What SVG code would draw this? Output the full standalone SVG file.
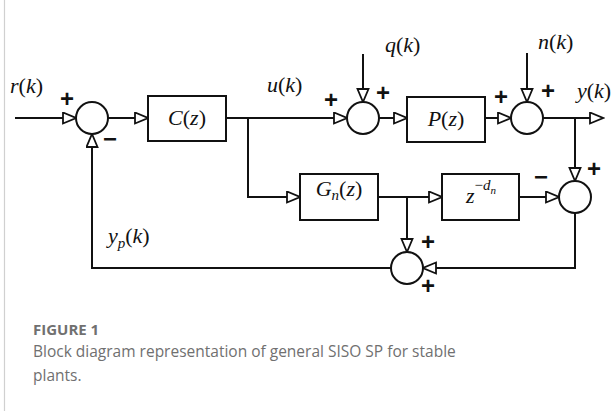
<svg xmlns="http://www.w3.org/2000/svg" width="612" height="411" viewBox="0 0 612 411">
  <defs>
    <style>
      .wire { fill: none; stroke: #111; stroke-width: 2; }
      .blk { fill: #fff; stroke: #111; stroke-width: 2; }
      .sum { fill: #fff; stroke: #111; stroke-width: 2; }
      .math { font-family: "Liberation Serif", "Times New Roman", serif; font-size: 22px; fill: #111; }
      .it { font-style: italic; }
      .sign { font-family: "Liberation Sans", Arial, sans-serif; font-size: 24px; font-weight: 700; fill: #111; text-anchor: middle; }
      .cap { font-family: "Open Sans", "Noto Sans", sans-serif; fill: #707070; }
    </style>
    <marker id="open" markerUnits="userSpaceOnUse" markerWidth="16" markerHeight="14" viewBox="-1 -1 16 14" refX="13" refY="5.5" orient="auto">
      <path d="M0,0 L13,5.5 L0,11 Z" fill="#fff" stroke="#111" stroke-width="1.8" stroke-linejoin="miter"/>
    </marker>
  </defs>

  <rect x="0" y="0" width="612" height="411" fill="#fff"/>
  <line x1="4.5" y1="0" x2="4.5" y2="411" stroke="#d0d0d0" stroke-width="1.2"/>

  <!-- signal lines -->
  <g id="connectors">
    <path class="wire" d="M15,118 H76" marker-end="url(#open)"/>
    <path class="wire" d="M108,118 H148" marker-end="url(#open)"/>
    <path class="wire" d="M226,118 H347" marker-end="url(#open)"/>
    <path class="wire" d="M248,118 V197 H300" marker-end="url(#open)"/>
    <path class="wire" d="M363,54 V102" marker-end="url(#open)"/>
    <path class="wire" d="M379,118 H407" marker-end="url(#open)"/>
    <path class="wire" d="M485,118 H511" marker-end="url(#open)"/>
    <path class="wire" d="M527,53 V102" marker-end="url(#open)"/>
    <path class="wire" d="M543,118 H603" marker-end="url(#open)"/>
    <path class="wire" d="M575,118 V181" marker-end="url(#open)"/>
    <path class="wire" d="M378,197 H442" marker-end="url(#open)"/>
    <path class="wire" d="M407,197 V252" marker-end="url(#open)"/>
    <path class="wire" d="M519,197 H559" marker-end="url(#open)"/>
    <path class="wire" d="M575,213 V268 H423" marker-end="url(#open)"/>
    <path class="wire" d="M391,268 H92 V134" marker-end="url(#open)"/>
  </g>

  <!-- summing junctions -->
  <g id="sum1">
    <circle class="sum" cx="92" cy="118" r="16"/>
    <text class="sign" x="67" y="107">+</text>
    <text class="sign" x="110" y="147">−</text>
  </g>
  <g id="sum2">
    <circle class="sum" cx="363" cy="118" r="16"/>
    <text class="sign" x="331" y="108">+</text>
    <text class="sign" x="383" y="101">+</text>
  </g>
  <g id="sum3">
    <circle class="sum" cx="527" cy="118" r="16"/>
    <text class="sign" x="501" y="105">+</text>
    <text class="sign" x="548" y="99">+</text>
  </g>
  <g id="sum4">
    <circle class="sum" cx="575" cy="197" r="16"/>
    <text class="sign" x="541" y="185">−</text>
    <text class="sign" x="594" y="176.5">+</text>
  </g>
  <g id="sum5">
    <circle class="sum" cx="407" cy="268" r="16"/>
    <text class="sign" x="428" y="249.5">+</text>
    <text class="sign" x="428" y="294">+</text>
  </g>

  <!-- blocks -->
  <g id="controller">
    <rect class="blk" x="148" y="96" width="78" height="45"/>
    <text class="math" x="187" y="125" text-anchor="middle"><tspan class="it">C</tspan>(<tspan class="it">z</tspan>)</text>
  </g>
  <g id="plant">
    <rect class="blk" x="407" y="97" width="78" height="45"/>
    <text class="math" x="446" y="126" text-anchor="middle"><tspan class="it">P</tspan>(<tspan class="it">z</tspan>)</text>
  </g>
  <g id="model">
    <rect class="blk" x="300" y="174" width="78" height="46"/>
    <text class="math" x="339" y="196" text-anchor="middle"><tspan class="it">G</tspan><tspan class="it" font-size="15" dy="4">n</tspan><tspan dy="-4">(</tspan><tspan class="it">z</tspan>)</text>
  </g>
  <g id="delay">
    <rect class="blk" x="442" y="174" width="77" height="46"/>
    <text class="math" x="466" y="203"><tspan class="it">z</tspan><tspan font-size="15" dy="-13">−</tspan><tspan class="it" font-size="15">d</tspan><tspan class="it" font-size="11" dy="4">n</tspan></text>
  </g>

  <!-- signal names -->
  <g id="signal-labels">
    <text class="math" x="10" y="93"><tspan class="it">r</tspan>(<tspan class="it">k</tspan>)</text>
    <text class="math" x="267" y="92"><tspan class="it">u</tspan>(<tspan class="it">k</tspan>)</text>
    <text class="math" x="385" y="52"><tspan class="it">q</tspan>(<tspan class="it">k</tspan>)</text>
    <text class="math" x="538" y="49"><tspan class="it">n</tspan>(<tspan class="it">k</tspan>)</text>
    <text class="math" x="577" y="98"><tspan class="it">y</tspan>(<tspan class="it">k</tspan>)</text>
    <text class="math" x="108" y="243"><tspan class="it">y</tspan><tspan class="it" font-size="15" dy="5">p</tspan><tspan dy="-5">(</tspan><tspan class="it">k</tspan>)</text>
  </g>

  <!-- caption -->
  <g id="caption">
    <text class="cap" x="33" y="335" font-size="15" font-weight="700" fill="#5f5f5f">FIGURE 1</text>
    <text class="cap" x="33" y="357" font-size="15.5">Block diagram representation of general SISO SP for stable</text>
    <text class="cap" x="33" y="381" font-size="15.5">plants.</text>
  </g>
</svg>
